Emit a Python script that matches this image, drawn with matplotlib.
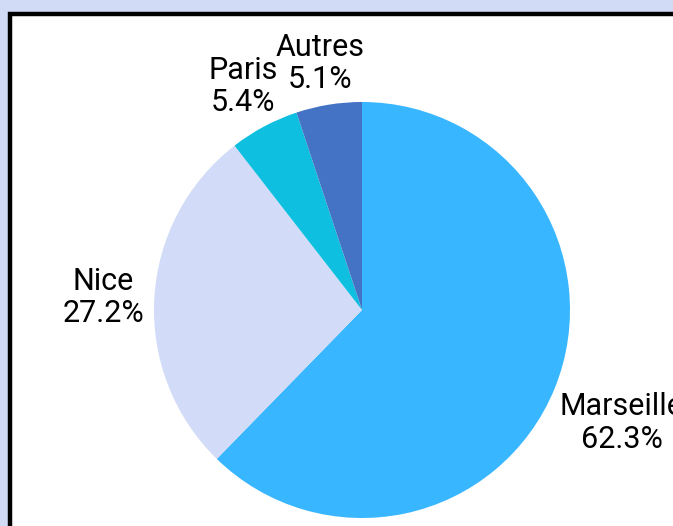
import numpy as np
import matplotlib
matplotlib.use('Agg')
import matplotlib.pyplot as plt
from matplotlib.patches import Rectangle

# slice data, clockwise from 12 o'clock
cities = ['Marseille', 'Nice', 'Paris', 'Autres']
shares = [62.3, 27.2, 5.4, 5.1]
colors = ['#38b6ff', '#d2dbf7', '#0fbfe0', '#4472c4']

plt.rcParams['font.family'] = ['Roboto', 'DejaVu Sans']

W, H = 673, 526
fig = plt.figure(figsize=(W / 100, H / 100), dpi=100)
fig.patch.set_facecolor('#d2dbf6')

# white panel with thick black border, running off the right and bottom edges
fig.patches.append(Rectangle((10 / W, -0.1), 1.1, (H - 14) / H + 0.1,
                             transform=fig.transFigure, facecolor='white',
                             edgecolor='black', linewidth=3.2, zorder=-5))

cx, cy, r = 362, H - 310, 208
ax = fig.add_axes([(cx - r) / W, (cy - r) / H, 2 * r / W, 2 * r / H])
ax.set_facecolor('none')
wedges, _ = ax.pie(shares, colors=colors, startangle=90, counterclock=False,
                   radius=1, wedgeprops=dict(linewidth=0))
ax.set_xlim(-1, 1)
ax.set_ylim(-1, 1)
ax.set_aspect('equal')
ax.axis('off')

renderer = fig.canvas.get_renderer()
for w, name, val in zip(wedges, cities, shares):
    ang = np.deg2rad((w.theta1 + w.theta2) / 2)
    c, s = np.cos(ang), np.sin(ang)
    va = 'center' if abs(s) < 0.3 else ('bottom' if s > 0 else 'top')
    t = ax.annotate(f'{name}\n{val}%', xy=(1.05 * c, 1.05 * s),
                    xytext=(0, 0), textcoords='offset pixels',
                    ha='center', va=va, multialignment='center',
                    fontsize=22, linespacing=1.15, annotation_clip=False)
    # slide the label outward horizontally by half its width
    tw = t.get_window_extent(renderer).width
    t.xyann = (c * tw / 2, 0)

fig.savefig('out.png', dpi=100, facecolor=fig.get_facecolor())
